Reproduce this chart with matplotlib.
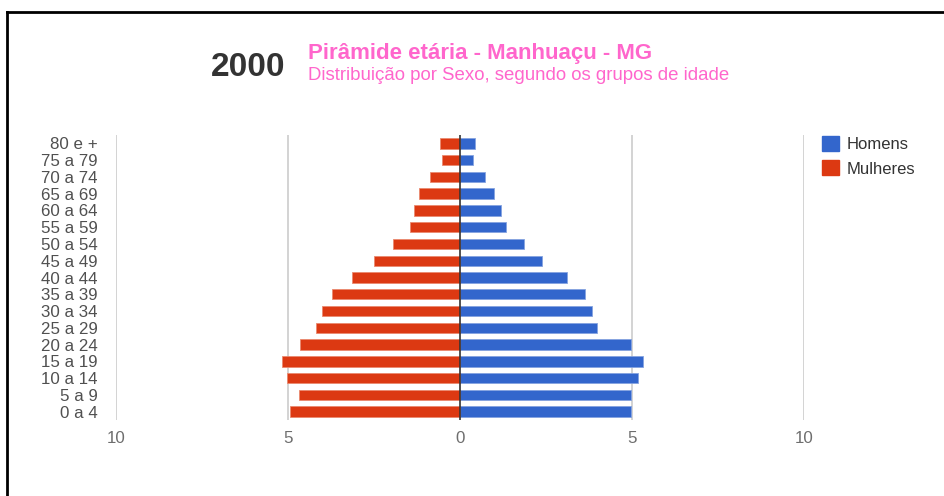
import matplotlib
matplotlib.use("Agg")
import matplotlib.pyplot as plt
from matplotlib.patches import Rectangle
from matplotlib.ticker import FuncFormatter
from matplotlib.lines import Line2D

plt.rcParams['font.family'] = ['Liberation Sans', 'DejaVu Sans']

age_groups = ["0 a 4", "5 a 9", "10 a 14", "15 a 19", "20 a 24", "25 a 29", "30 a 34",
              "35 a 39", "40 a 44", "45 a 49", "50 a 54", "55 a 59", "60 a 64",
              "65 a 69", "70 a 74", "75 a 79", "80 e +"]
homens = [4.98, 4.98, 5.18, 5.32, 4.98, 3.97, 3.85, 3.62, 3.10, 2.39, 1.87, 1.33, 1.18,
          0.99, 0.72, 0.39, 0.43]
mulheres = [4.94, 4.68, 5.02, 5.17, 4.64, 4.20, 4.00, 3.71, 3.13, 2.50, 1.94, 1.44, 1.33,
            1.18, 0.87, 0.53, 0.58]
x_ticks = [-10, -5, 0, 5, 10]

BLUE = '#3366CC'
RED = '#DC3912'

fig = plt.figure(figsize=(9.45, 4.96), dpi=100)
fig.patch.set_facecolor('white')

ax = fig.add_axes([116/945, 1-420/496, 688/945, 285/496])
y = list(range(len(age_groups)))
ax.barh(y, homens, height=0.62, color=BLUE, edgecolor='#85a3e0', linewidth=0.6, zorder=3)
ax.barh(y, [-m for m in mulheres], height=0.62, color=RED, edgecolor='#ea8a70', linewidth=0.6, zorder=3)

ax.set_xlim(-10, 10)
ax.set_ylim(-0.5, len(age_groups) - 0.5)
ax.set_xticks(x_ticks)
ax.xaxis.set_major_formatter(FuncFormatter(lambda v, p: f"{abs(int(v))}"))
ax.set_yticks(y)
ax.set_yticklabels(age_groups)
for s in ax.spines.values():
    s.set_visible(False)
ax.tick_params(axis='both', length=0)
ax.tick_params(axis='y', pad=13, labelsize=12.2, labelcolor='#505050')
ax.tick_params(axis='x', pad=8, labelsize=12.2, labelcolor='#6e6e6e')
for xv in x_ticks:
    if xv != 0:
        ax.axvline(xv, color='#cccccc', linewidth=1.2, zorder=1)
ax.axvline(0, color='#333333', linewidth=1.2, zorder=4)

# Titles
fig.text(211/945, 1-75.5/496, "2000", fontsize=24, fontweight='bold', color='#333333',
         ha='left', va='baseline')
fig.text(308/945, 1-59.5/496, "Pirâmide etária - Manhuaçu - MG", fontsize=16,
         fontweight='bold', color='#FF66CC', ha='left', va='baseline')
fig.text(308/945, 1-80/496, "Distribuição por Sexo, segundo os grupos de idade", fontsize=13.4,
         color='#FF66CC', ha='left', va='baseline')

# Legend
handles = [Rectangle((0, 0), 1, 1, color=BLUE), Rectangle((0, 0), 1, 1, color=RED)]
fig.legend(handles, ["Homens", "Mulheres"], loc='upper left',
           bbox_to_anchor=(807/945, 1-121/496), frameon=False, fontsize=12,
           handlelength=1.0, handleheight=1.0, handletextpad=0.5, labelspacing=0.5,
           labelcolor='#333333')

# Border lines (left and top)
fig.add_artist(Line2D([7.5/945, 7.5/945], [0, 1-12/496], color='black', linewidth=2,
                      transform=fig.transFigure))
fig.add_artist(Line2D([7.5/945, 1], [1-12/496, 1-12/496], color='black', linewidth=2,
                      transform=fig.transFigure))

fig.savefig("out.png", dpi=100, facecolor='white')
